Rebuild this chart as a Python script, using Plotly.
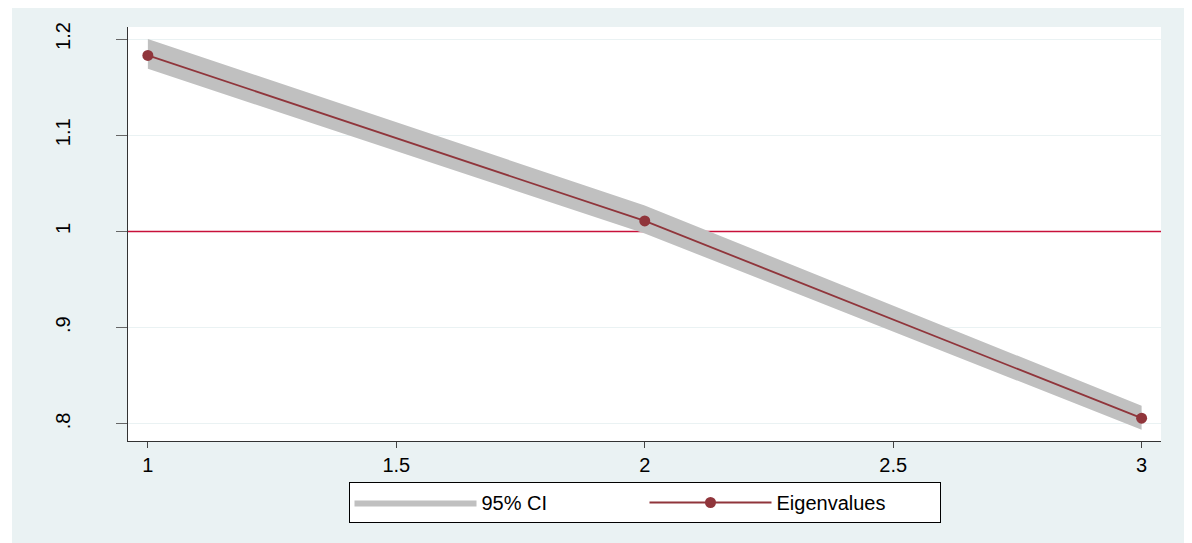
import plotly.graph_objects as go

# ---- data ----
components = [1, 2, 3]
eigenvalues = [1.183, 1.011, 0.806]
ci_upper = [1.200, 1.027, 0.819]
ci_lower = [1.169, 0.998, 0.794]
threshold = 1.0
x_ticks = [1, 1.5, 2, 2.5, 3]
x_ticklabels = ["1", "1.5", "2", "2.5", "3"]
y_ticks = [0.8, 0.9, 1.0, 1.1, 1.2]
y_ticklabels = [".8", ".9", "1", "1.1", "1.2"]

X_RANGE = [0.96, 3.039]
Y_RANGE = [0.7823, 1.2125]
BG = "#eaf2f3"
CRAN = "#90353b"
FONT = "Liberation Sans, Arial, sans-serif"

fig = go.Figure()
# reference line at eigenvalue = 1 (drawn first so the band covers it)
fig.add_trace(go.Scatter(x=X_RANGE, y=[threshold, threshold], mode="lines",
                         line=dict(color="#c8103a", width=1.6),
                         showlegend=False, hoverinfo="skip"))
fig.add_trace(go.Scatter(x=components, y=ci_lower, mode="lines",
                         line=dict(width=0, color="#c0c0c0"),
                         showlegend=False, hoverinfo="skip"))
fig.add_trace(go.Scatter(x=components, y=ci_upper, mode="lines",
                         line=dict(width=0, color="#c0c0c0"),
                         fill="tonexty", fillcolor="#c0c0c0",
                         name="95% CI"))
fig.add_trace(go.Scatter(x=components, y=eigenvalues, mode="lines+markers",
                         line=dict(color=CRAN, width=1.8),
                         marker=dict(color=CRAN, size=11),
                         name="Eigenvalues"))

# page body has an 8px margin; figure fills the rest of the window
W, H = 1184, 535
ml, mr, mt, mb = 120, 31, 19, 102
pw, ph = W - ml - mr, H - mt - mb
# extra white strip on the left (reference has a 12px white edge)
fig.add_shape(type="rect", xref="paper", yref="paper",
              x0=-ml / pw, x1=(4 - ml) / pw,
              y0=-mb / ph, y1=(ph + mt) / ph,
              fillcolor="white", line=dict(width=0), layer="below")

fig.update_layout(
    width=W, height=H,
    margin=dict(l=ml, r=mr, t=mt, b=mb),
    paper_bgcolor=BG, plot_bgcolor="white",
    font=dict(family=FONT, size=20, color="black"),
    showlegend=True,
    legend=dict(orientation="h", x=0.5, xanchor="center",
                y=-0.099, yanchor="top",
                bgcolor="white", bordercolor="black", borderwidth=1,
                itemwidth=122, font=dict(size=20), entrywidth=158,
                traceorder="normal"),
    xaxis=dict(range=X_RANGE, tickvals=x_ticks, ticktext=x_ticklabels,
               ticks="outside", ticklen=6, tickcolor="#444", tickwidth=1,
               showline=True, linecolor="#333", linewidth=1.3,
               showgrid=False, zeroline=False, tickfont=dict(size=20)),
    yaxis=dict(range=Y_RANGE, tickvals=y_ticks, ticktext=y_ticklabels,
               tickangle=-90, ticks="outside", ticklen=11, tickcolor="#666",
               tickwidth=1, showline=True, linecolor="#333", linewidth=1.3,
               showgrid=True, gridcolor=BG, gridwidth=1.2,
               zeroline=False, tickfont=dict(size=20),
               ticklabelstandoff=38),
)

fig.write_html("out.html")
